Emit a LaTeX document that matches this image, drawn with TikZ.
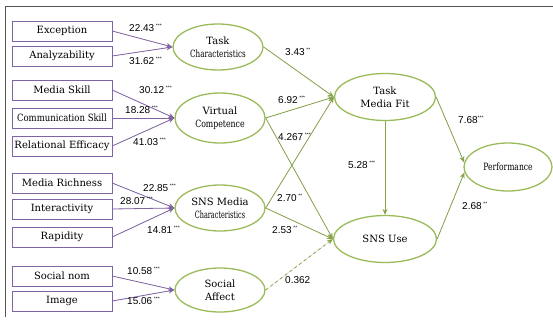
\documentclass[tikz,border=0pt]{standalone}
\usepackage{graphicx}
\usepackage{fontspec}
\setmainfont{DejaVu Serif}
\newfontfamily\numfont{Liberation Sans}
\usetikzlibrary{arrows.meta,shapes.geometric}
\definecolor{vio}{HTML}{8064A2}
\definecolor{olive}{HTML}{9BBB59}
\definecolor{oliveln}{HTML}{86A34E}
\definecolor{framegray}{HTML}{555555}
\tikzset{
  item/.style={draw=vio, rectangle, minimum width=100pt, minimum height=20pt, inner sep=0pt, font=\fontsize{10}{11}\selectfont},
  lat/.style={draw=olive, line width=1.3pt, ellipse, minimum width=90pt, minimum height=46pt, inner sep=0pt, align=center, font=\fontsize{10}{13}\selectfont},
  parr/.style={-{Stealth[length=6pt,width=5pt]}, draw=vio, fill=vio, line width=0.8pt},
  garr/.style={-{Stealth[length=6pt,width=5pt]}, draw=oliveln, fill=oliveln, line width=0.8pt},
  gdarr/.style={garr, dashed},
  coef/.style={font=\numfont\fontsize{10}{11}\selectfont, inner sep=0pt, anchor=west},
}
\newcommand{\sig}[1]{\textsuperscript{\fontsize{5}{5}\selectfont#1}}
\newcommand{\cond}[2]{\scalebox{#1}[1]{#2}}
\begin{document}
\begin{tikzpicture}[x=1pt,y=-1pt]
\useasboundingbox (0,0) rectangle (553,324);
% frame
\draw[framegray, line width=0.8pt] (553,6) -- (5,6) -- (5,317);
% observed items
\node[item] (exc) at (62,31) {Exception};
\node[item] (ana) at (62,56) {Analyzability};
\node[item] (msk) at (62,90) {Media Skill};
\node[item] (csk) at (62,118) {\cond{0.85}{Communication Skill}};
\node[item] (ref) at (62,146) {Relational Efficacy};
\node[item] (mri) at (62,183) {Media Richness};
\node[item] (int) at (62,209) {Interactivity};
\node[item] (rap) at (62,237) {Rapidity};
\node[item] (snm) at (62,276) {Social nom};
\node[item] (img) at (62,301) {Image};
% latent variables
\node[lat] (tc) at (218,47) {Task\\\cond{0.72}{Characteristics}};
\node[lat, minimum height=50pt] (vc) at (220,118) {Virtual\\\cond{0.78}{Competence}};
\node[lat] (smc) at (220,208) {SNS Media\\\cond{0.65}{Characteristics}};
\node[lat, minimum height=44pt] (sa) at (220,290) {Social\\Affect};
\node[lat, minimum width=101pt, minimum height=47pt] (tmf) at (385,97) {Task\\Media Fit};
\node[lat, minimum width=103pt, minimum height=47pt] (use) at (385,239) {SNS Use};
\node[lat, minimum width=88pt, minimum height=48pt] (perf) at (508,167) {\cond{0.76}{Performance}};
% measurement paths
\draw[parr] (exc.east) -- (tc.west);
\draw[parr] (ana.east) -- (tc.west);
\draw[parr] (msk.east) -- (vc.west);
\draw[parr] (csk.east) -- (vc.west);
\draw[parr] (ref.east) -- (vc.west);
\draw[parr] (mri.east) -- (smc.west);
\draw[parr] (int.east) -- (smc.west);
\draw[parr] (rap.east) -- (smc.west);
\draw[parr] (snm.east) -- (sa.west);
\draw[parr] (img.east) -- (sa.west);
\node[coef] (k1) at (129,28) {22.43\,\sig{***}};
\node[coef] (k2) at (129,61) {31.62\,\sig{***}};
\node[coef] (k3) at (139,90) {30.12\,\sig{***}};
\node[coef] (k4) at (125,110) {18.28\,\sig{***}};
\node[coef] (k5) at (133,142) {41.03\,\sig{***}};
\node[coef] (k6) at (143,188) {22.85\,\sig{***}};
\node[coef] (k7) at (120,201) {28.07\,\sig{***}};
\node[coef] (k8) at (147,230) {14.81\,\sig{***}};
\node[coef] (k9) at (127,271) {10.58\,\sig{***}};
\node[coef] (k10) at (127,301) {15.06\,\sig{***}};
% structural paths
\draw[garr] (tc.east) -- (tmf.west);
\draw[garr] (vc.east) -- (tmf.west);
\draw[garr] (vc.east) -- (use.west);
\draw[garr] (smc.east) -- (tmf.west);
\draw[garr] (smc.east) -- (use.west);
\draw[gdarr] (sa.east) -- (use.west);
\draw[garr] (tmf.south) -- (use.north);
\draw[garr] (tmf.east) -- (perf.174);
\draw[garr] (use.east) -- (perf.187);
\node[coef] (b1) at (285,52) {3.43\,\sig{**}};
\node[coef] (b2) at (278,100) {6.92\,\sig{***}};
\node[coef] (b3) at (278,137) {4.267\,\sig{***}};
\node[coef] (b4) at (277,198) {2.70\,\sig{**}};
\node[coef] (b5) at (272,230) {2.53\,\sig{**}};
\node[coef] (b6) at (285,280) {0.362};
\node[coef] (b7) at (348,165) {5.28\,\sig{***}};
\node[coef] (b8) at (458,120) {7.68\sig{***}};
\node[coef] (b9) at (462,206) {2.68\,\sig{**}};
\end{tikzpicture}
\end{document}
